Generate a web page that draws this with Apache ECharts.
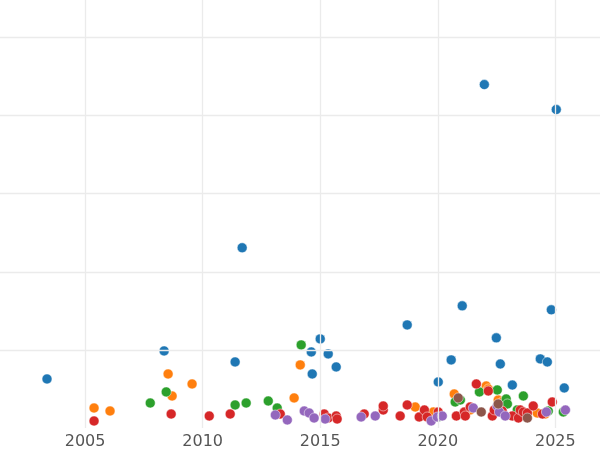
<!DOCTYPE html>
<html><head><meta charset="utf-8">
<script src="https://cdn.jsdelivr.net/npm/echarts@6/dist/echarts.min.js"></script>
<style>html,body{margin:0;padding:0;background:#fff}#c{width:600px;height:450px}</style>
</head><body><div id="c"></div>
<script>
const xTicks = [2005, 2010, 2015, 2020, 2025];
const yGrid = [100, 200, 300, 400, 500];
const blueYears = [2003.38,2008.36,2011.38,2011.68,2014.62,2014.66,2015.0,2015.34,2015.68,2018.70,2020.02,2020.57,2021.04,2021.98,2022.49,2022.66,2023.17,2024.36,2024.66,2024.83,2025.04,2025.38];
const blueVals = [62.8,98.7,84.6,230.8,97.4,69.2,114.1,94.9,78.2,132,59,87.2,156.4,439.7,115.4,82,55,88.5,84.6,151.3,407.7,51.3];
const orangeYears = [2005.38,2006.06,2008.53,2008.70,2009.55,2013.89,2014.15,2019.04,2020.70,2022.06,2022.15,2022.57,2022.79,2024.23,2024.57,2019.81,2021.38];
const orangeVals = [25.6,21.8,69.2,41,56.4,38.5,80.8,26.9,43.6,53.8,50,35.9,34.6,19.2,17.9,20.5,23.1];
const greenYears = [2007.77,2008.45,2011.38,2011.85,2012.79,2013.17,2014.19,2020.74,2020.96,2021.77,2022.53,2022.91,2022.96,2023.38,2023.64,2024.70,2025.34,2020.02];
const greenVals = [32,46.2,29.5,32,34.6,25.6,106.4,33.3,35.9,46.2,48.7,37.2,30.8,23.1,41,21.8,20.5,14.1];
const redYears = [2005.38,2008.66,2010.28,2011.17,2013.30,2015.17,2015.34,2015.68,2015.72,2016.87,2017.68,2017.68,2018.40,2018.70,2019.21,2019.43,2019.55,2020.02,2020.79,2021.13,2021.17,2021.38,2021.64,2022.15,2022.32,2022.40,2022.74,2023.17,2023.43,2023.51,2023.64,2023.81,2024.06,2024.45,2024.87];
const redVals = [9,17.9,15.4,17.9,17.9,17.9,12.8,15.4,11.5,17.9,23.1,28.2,15.4,29.5,14.1,23.1,14.1,20.5,15.4,20.5,15.4,26.9,56.4,47.4,15.4,23.1,21.8,15.4,12.8,23.1,20.5,19.2,28.2,17.9,33.3];
const purpleYears = [2013.09,2013.60,2014.32,2014.53,2014.74,2015.21,2016.74,2017.34,2019.72,2019.98,2020.19,2021.51,2022.53,2022.62,2022.87,2024.62,2025.43];
const purpleVals = [16.7,10.3,21.8,19.2,12.8,11.5,14.1,15.4,9,14.1,15.4,25.6,28.2,20.5,15.4,20.5,23.1];
const brownYears = [2020.87,2021.85,2022.57,2023.81];
const brownVals = [38.5,20.5,30.8,12.8];

const groups = [
  ['A', blueYears, blueVals, '#1f77b4'],
  ['B', orangeYears, orangeVals, '#ff7f0e'],
  ['C', greenYears, greenVals, '#2ca02c'],
  ['D', redYears, redVals, '#d62728'],
  ['E', purpleYears, purpleVals, '#9467bd'],
  ['F', brownYears, brownVals, '#8c564b']
];
const series = groups.map(([n, xs, ys, c]) => ({
  name: n, type: 'scatter', symbolSize: 10, z: 3,
  itemStyle: {color: c, borderColor: '#fff', borderWidth: 0.5, opacity: 1},
  data: xs.map((x, i) => [x, ys[i]])
}));
series.push({
  type: 'line', data: [], silent: true, z: 1,
  markLine: {silent: true, symbol: 'none', label: {show: false}, animation: false,
    lineStyle: {color: '#ebebeb', type: 'solid', width: 1.3},
    data: xTicks.map(v => ({xAxis: v})).concat(yGrid.map(v => ({yAxis: v})))}
});
const chart = echarts.init(document.getElementById('c'));
chart.setOption({
  animation: false,
  grid: {left: 0, right: 0, top: 0, height: 428},
  xAxis: {type: 'value', min: 2001.38, max: 2026.9,
    axisLine: {show: false}, axisTick: {show: false, customValues: xTicks},
    axisLabel: {color: '#555', fontSize: 16, fontFamily: 'DejaVu Sans', margin: 6,
      customValues: xTicks, formatter: v => String(v)},
    splitLine: {show: false}},
  yAxis: {type: 'value', min: 0, max: 548,
    axisLine: {show: false}, axisTick: {show: false}, axisLabel: {show: false},
    splitLine: {show: false}},
  series: series
});
</script></body></html>
